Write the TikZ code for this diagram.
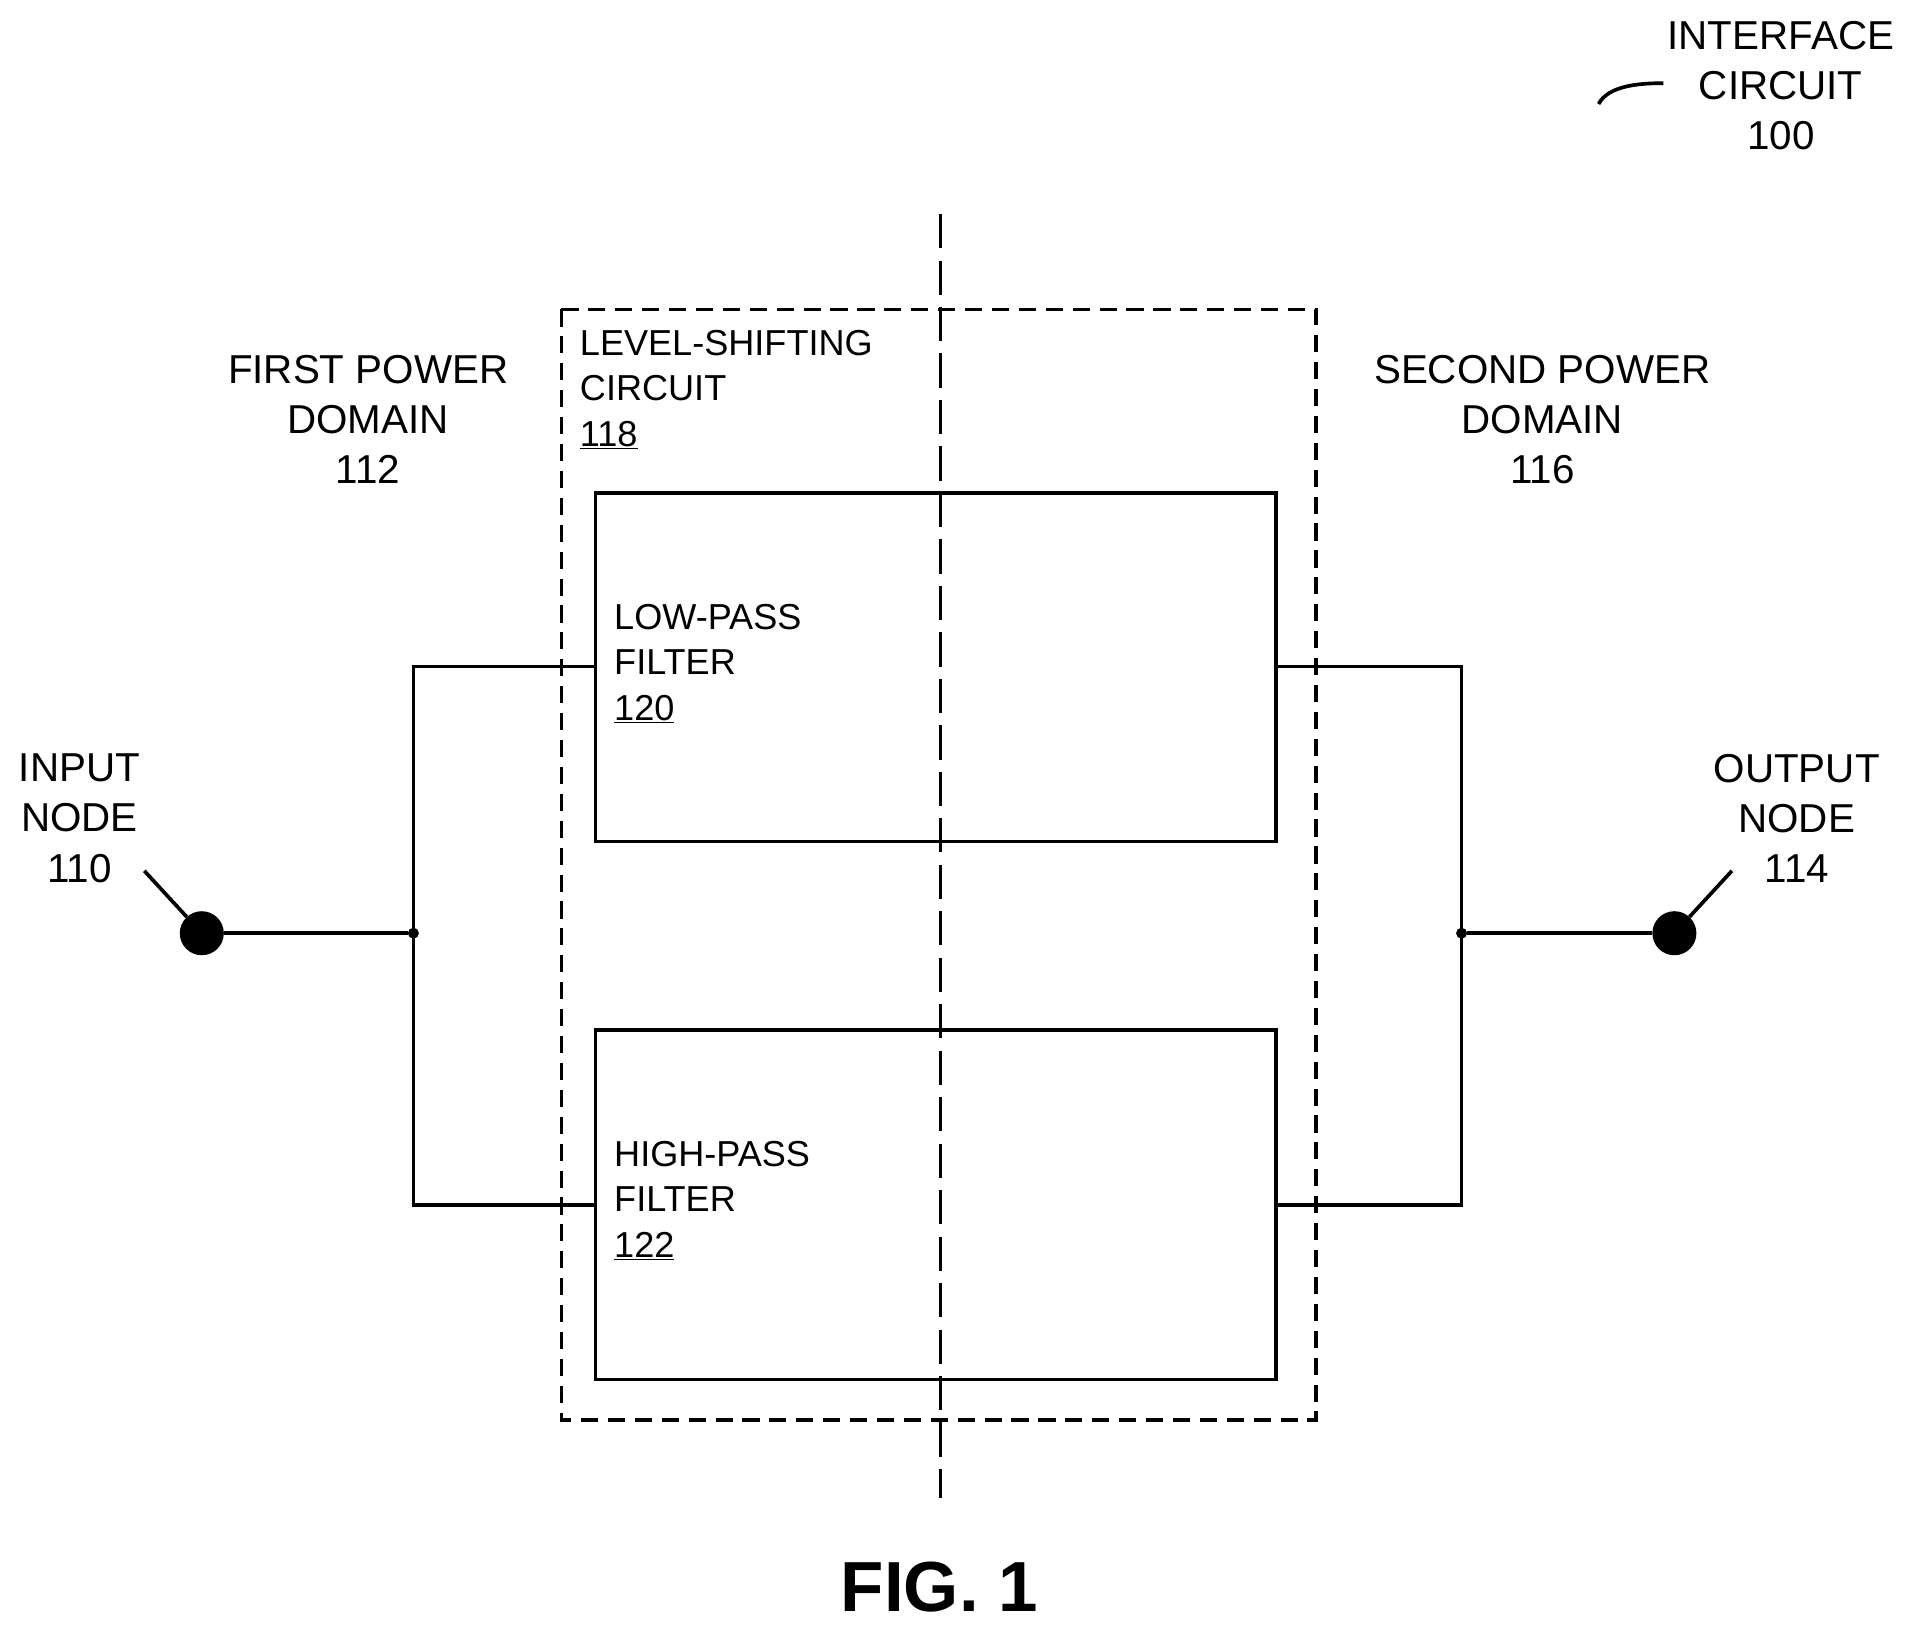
\documentclass[tikz,border=0pt]{standalone}
\usepackage{fontspec}
\setmainfont{Liberation Sans}
\begin{document}
\begin{tikzpicture}[x=1pt,y=-1pt,
  ln/.style={line width=3pt},
  dsh/.style={line width=3pt,dash pattern=on 14pt off 8pt},
  lbl/.style={align=center,font=\fontsize{33}{41}\selectfont,inner sep=0pt},
  blbl/.style={align=left,font=\fontsize{29.5}{37}\selectfont,inner sep=0pt,anchor=north west},
  dot/.style={circle,fill,inner sep=0pt,minimum size=#1}]
\useasboundingbox (0,0) rectangle (1560,1328);
\coordinate (vt) at (769,175); \coordinate (vb) at (769,1225);
\draw[line width=3pt,dash pattern=on 28pt off 10pt] (vt) -- (vb);
\draw[dsh] (459,253) rectangle (1076,1161);
\draw[ln] (487,403) rectangle (1043,688);
\draw[ln] (487,842) rectangle (1043,1128);
\node[dot=36pt] (in) at (165,763) {};
\node[dot=9pt] (jl) at (338,763) {};
\node[dot=36pt] (out) at (1369,763) {};
\node[dot=9pt] (jr) at (1195,763) {};
\draw[ln] (in) -- (jl);
\draw[ln] (487,545) -| (338,985) -- (487,985);
\draw[ln] (1043,545) -| (1195,985) -- (1043,985);
\draw[ln] (jr) -- (out);
\draw[ln] (118,712) -- (in);
\draw[ln] (1416,712) -- (out);
\draw[ln] (1307,85) .. controls (1315,70) and (1340,68) .. (1360,68);
\node[lbl] (ic) at (1456,70) {INTERFACE\\CIRCUIT\\100};
\node[lbl] (fp) at (301,343) {FIRST POWER\\DOMAIN\\112};
\node[lbl] (sp) at (1261,343) {SECOND POWER\\DOMAIN\\116};
\node[lbl] (inl) at (65,669) {INPUT\\NODE\\110};
\node[lbl] (outl) at (1469,669) {OUTPUT\\NODE\\114};
\node[blbl] (ls) at (474,270) {LEVEL-SHIFTING\\CIRCUIT\\\underline{118}};
\node[blbl] (lp) at (502,494) {LOW-PASS\\FILTER\\\underline{120}};
\node[blbl] (hp) at (502,933) {HIGH-PASS\\FILTER\\\underline{122}};
\node[font=\bfseries\fontsize{58}{60}\selectfont,inner sep=0pt] (fig) at (768,1298) {FIG. 1};
\end{tikzpicture}
\end{document}
